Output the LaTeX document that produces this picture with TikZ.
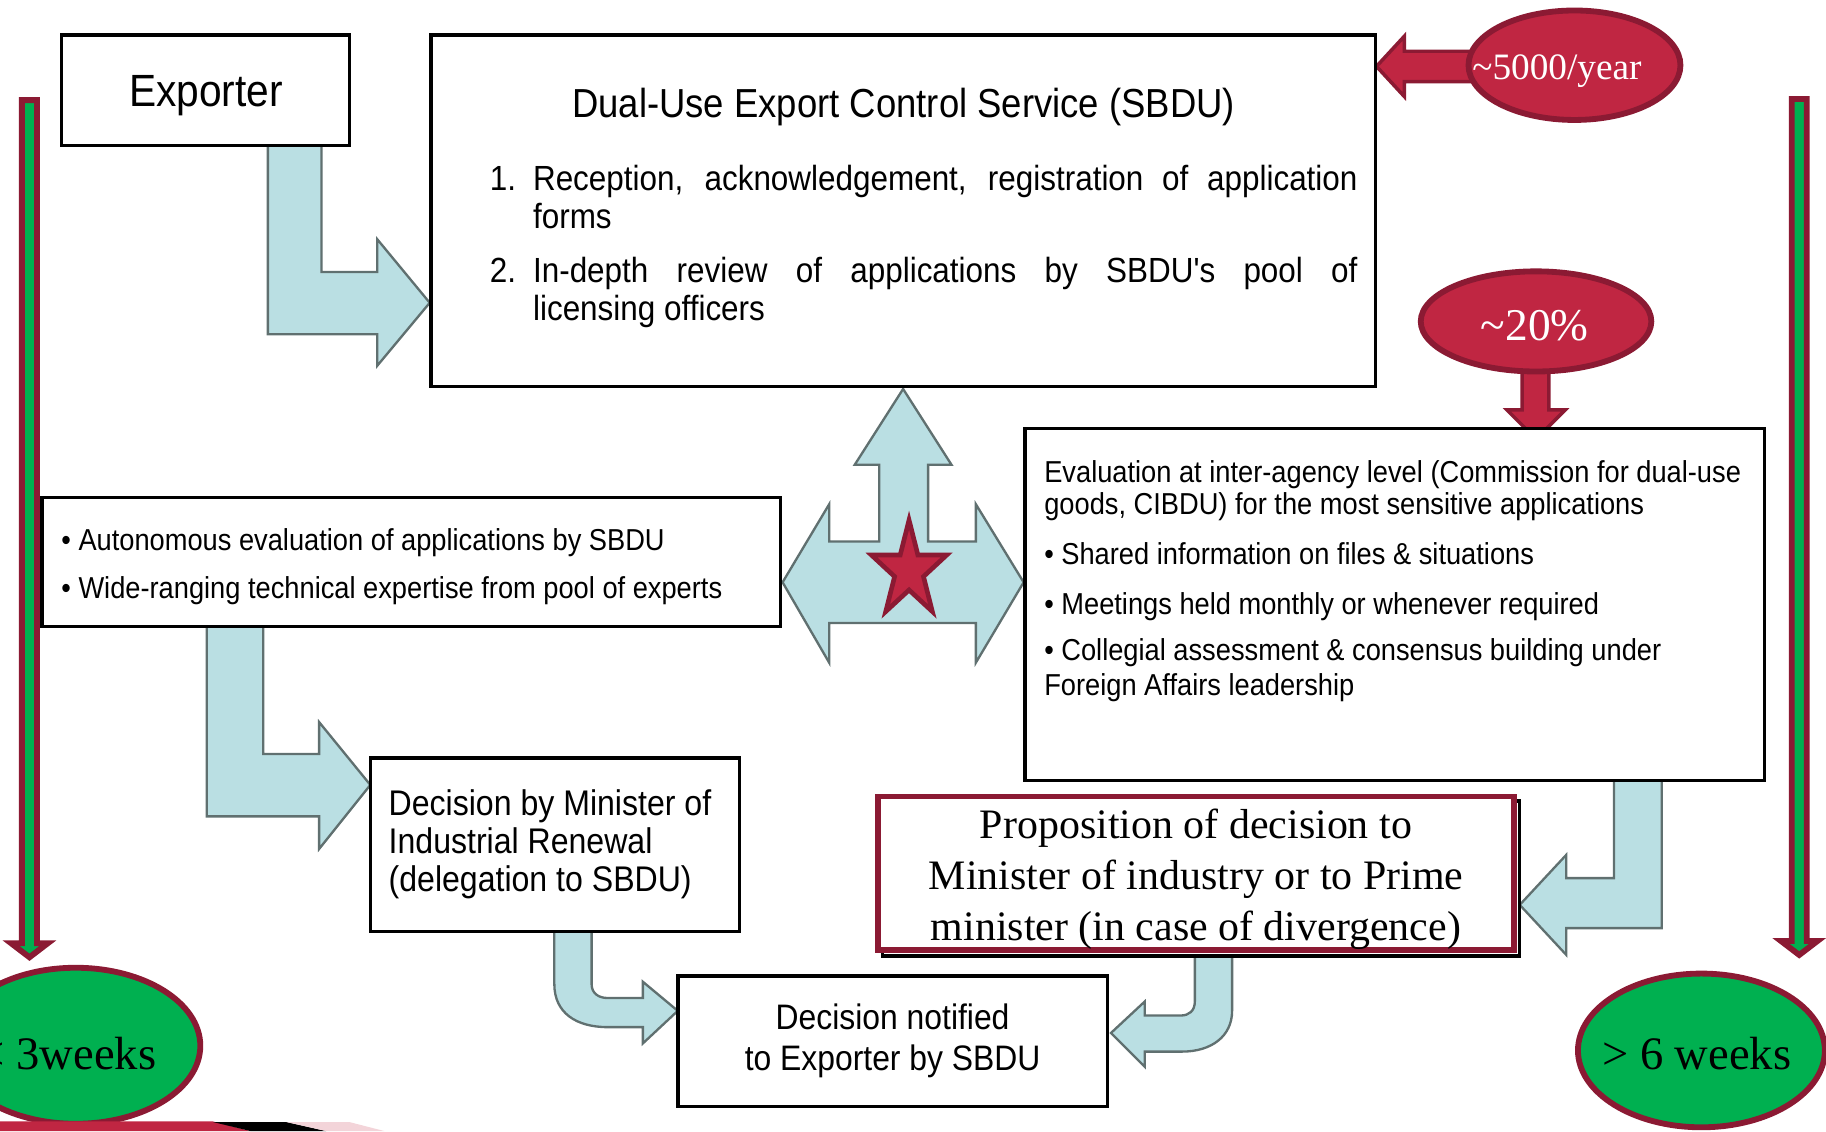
\documentclass[tikz,border=0pt]{standalone}
\usepackage{fontspec}
\setmainfont{Liberation Serif}
\newfontfamily\arialfont[FakeStretch=0.9]{Liberation Sans}
\usetikzlibrary{shapes.geometric}
\definecolor{ltblue}{RGB}{186,223,227}
\definecolor{arrgrey}{RGB}{96,112,112}
\definecolor{crimson}{RGB}{192,38,66}
\definecolor{darkred}{RGB}{139,26,51}
\definecolor{okgreen}{RGB}{0,176,80}
\tikzset{every picture/.style={line width=0.75pt}}
\tikzset{
  box/.style={draw, line width=1.5pt, fill=white, rectangle, inner sep=0pt},
  fatarrow/.style={fill=ltblue, draw=arrgrey, line width=1pt, line join=miter},
  redoval/.style={ellipse, draw=darkred, fill=crimson, line width=2.5pt, inner sep=0pt},
  greenoval/.style={ellipse, draw=darkred, fill=okgreen, line width=2.5pt, inner sep=0pt},
  redarrow/.style={fill=crimson, draw=darkred, line width=1.5pt},
  timebar/.style={fill=okgreen, draw=darkred, line width=2.5pt},
}

\begin{document}
\begin{tikzpicture}[x=0.5pt,y=0.5pt,yscale=-1,xscale=1]
\useasboundingbox (0,0) rectangle (1568,971.2);

% time bars
\draw[timebar] (18.8,86) -- (31.8,86) -- (31.8,810) -- (41,810) -- (25.3,822) -- (9.6,810) -- (18.8,810) -- cycle;
\draw[timebar] (1538.5,85) -- (1551.5,85) -- (1551.5,808) -- (1560.7,808) -- (1545,820) -- (1529.3,808) -- (1538.5,808) -- cycle;

% block arrows
\draw[fatarrow] (230,125) -- (276,125) -- (276,233.5) -- (324,233.5) -- (324,205.5) -- (369,260) -- (324,314) -- (324,287) -- (230,287) -- cycle;
\draw[fatarrow] (177.5,538) -- (226,538) -- (226,647.5) -- (274,647.5) -- (274,620) -- (318,674) -- (274,729) -- (274,701) -- (177.5,701) -- cycle;
\draw[fatarrow] (476,800) -- (476,845) .. controls (476,870) and (495,882) .. (522,882) -- (552,882) -- (552,896) -- (582,868) -- (552,843) -- (552,857) -- (522,857) .. controls (514,857) and (508,853) .. (508,845) -- (508,800) -- cycle;
\draw[fatarrow] (1427,670) -- (1427,797) -- (1345,797) -- (1345,820) -- (1305,777) -- (1345,734) -- (1345,754) -- (1386,754) -- (1386,670) -- cycle;
\draw[fatarrow] (1058,821) -- (1058,868) .. controls (1058,890) and (1040,903) .. (1015,903) -- (983,903) -- (983,916) -- (954,887) -- (983,860) -- (983,872) -- (1014,872) .. controls (1021,872) and (1026,868) .. (1026,860) -- (1026,821) -- cycle;
\draw[fatarrow] (775.5,334) -- (817,399) -- (797,399) -- (797,465) -- (838,465) -- (838,433) -- (879,500) -- (838,569) -- (838,535) -- (712,535) -- (712,569) -- (672,500) -- (712,433) -- (712,465) -- (755,465) -- (755,399) -- (734,399) -- cycle;

% red arrows
\draw[redarrow] (1275,44) -- (1206,44) -- (1206,31) -- (1182,57) -- (1206,83) -- (1206,70) -- (1275,70);
\draw[redarrow] (1307,300) -- (1307,352) -- (1294,352) -- (1319,377) -- (1344,352) -- (1330,352) -- (1330,300);

% boxes
\node[box, minimum width=123.5pt, minimum height=47.5pt] (exporter) at (176.5,77.5) {};
\node[box, minimum width=405.5pt, minimum height=151pt] (sbdu) at (775.5,181) {};
\node[box, minimum width=317pt, minimum height=55.5pt] (auton) at (353,482.5) {};
\node[box, minimum width=317.5pt, minimum height=151pt] (evalbox) at (1197.5,519) {};
\node[box, minimum width=158.5pt, minimum height=74.5pt] (minister) at (476.5,725.5) {};
\node[box, minimum width=184.5pt, minimum height=56pt, align=center, font={\arialfont\fontsize{15.2}{17.5}\selectfont}] (notified) at (766.5,894) {Decision notified\\ to Exporter by SBDU};
\draw[line width=1.5pt, fill=white] (758,688) rectangle (1305,821);
\node[box, draw=darkred, line width=2.5pt, minimum width=273pt, minimum height=66pt] (propos) at (1027,750) {};

% ovals
\node[redoval, minimum width=91pt, minimum height=47pt] (e5000) at (1352,56) {};
\node[text=white, inner sep=0pt, font={\fontsize{16}{18}\selectfont}] (t5000) at (1337,61) {\textasciitilde 5000/year};
\node[redoval, minimum width=99pt, minimum height=43pt] (e20) at (1319,276) {};
\node[text=white, inner sep=0pt, font={\fontsize{19.5}{22}\selectfont}] (t20) at (1318,280) {\textasciitilde 20\%};
\node[greenoval, minimum width=107pt, minimum height=67pt] (e3w) at (65,898) {};
\node[inner sep=0pt, font={\fontsize{20}{22}\selectfont}] (t3w) at (58,905) {\textless{} 3weeks};
\node[greenoval, minimum width=106pt, minimum height=66pt] (e6w) at (1461,902) {};
\node[inner sep=0pt, font={\fontsize{20}{22}\selectfont}] (t6w) at (1457,905) {\textgreater{} 6 weeks};

% texts
\node[inner sep=0pt, font={\arialfont\fontsize{19.4}{22}\selectfont}] (exptext) at (177,82) {Exporter};
\node[inner sep=0pt, font={\arialfont\fontsize{17.4}{20}\selectfont}] (sbdutitle) at (776,92) {Dual-Use Export Control Service (SBDU)};
\node[anchor=north west, inner sep=0pt, text width=372.5pt, align=justify, font={\arialfont\fontsize{15}{16.5}\selectfont}] (sbduitems) at (420,141) {\hyphenpenalty=10000\exhyphenpenalty=10000
\hangindent=18.5pt\hangafter=1 \makebox[18.5pt][l]{1.}Reception, acknowledgement, registration of application\linebreak forms\par\vspace{6.5pt}
\hangindent=18.5pt\hangafter=1 \makebox[18.5pt][l]{2.}In-depth review of applications by SBDU's pool of\linebreak licensing officers\par};
\node[anchor=north west, inner sep=0pt, align=left, font={\arialfont\fontsize{13}{20.5}\selectfont}] (autontext) at (52,453) {\textbullet\ Autonomous evaluation of applications by SBDU\\ \textbullet\ Wide-ranging technical expertise from pool of experts};
\node[anchor=north west, inner sep=0pt, align=left, font={\arialfont\fontsize{13}{13.5}\selectfont}] (evaltext) at (896,395) {Evaluation at inter-agency level (Commission for dual-use\\ goods, CIBDU) for the most sensitive applications\\[8pt] \textbullet\ Shared information on files \& situations\\[8pt] \textbullet\ Meetings held monthly or whenever required\\[6.5pt] \textbullet\ Collegial assessment \& consensus building under\\[1.5pt] Foreign Affairs leadership};
\node[anchor=north west, inner sep=0pt, align=left, font={\arialfont\fontsize{15.3}{16.5}\selectfont}] (ministertext) at (333,677) {Decision by Minister of\\ Industrial Renewal\\ (delegation to SBDU)};
\node[align=center, inner sep=0pt, font={\fontsize{18}{22}\selectfont}] (propostext) at (1027,755) {Proposition of decision to\\ Minister of industry or to Prime\\ minister (in case of divergence)};

% star
\draw[fill=crimson, draw=darkred, line width=2pt] (780.6,446.6) -- (788.2,476.6) -- (812.9,476.6) -- (793.0,495.1) -- (800.6,525.1) -- (780.6,506.6) -- (760.6,525.1) -- (768.2,495.1) -- (748.3,476.6) -- (773.0,476.6) -- cycle;

% slide swoosh
\fill[crimson] (0,963) -- (183,963) -- (215,971.2) -- (0,971.2) -- cycle;
\fill[black] (183,963.5) -- (246,963.5) -- (280,971.2) -- (215,971.2) -- cycle;
\fill[crimson!20] (246,963.5) -- (300,963.5) -- (330,971.2) -- (280,971.2) -- cycle;
\end{tikzpicture}
\end{document}
